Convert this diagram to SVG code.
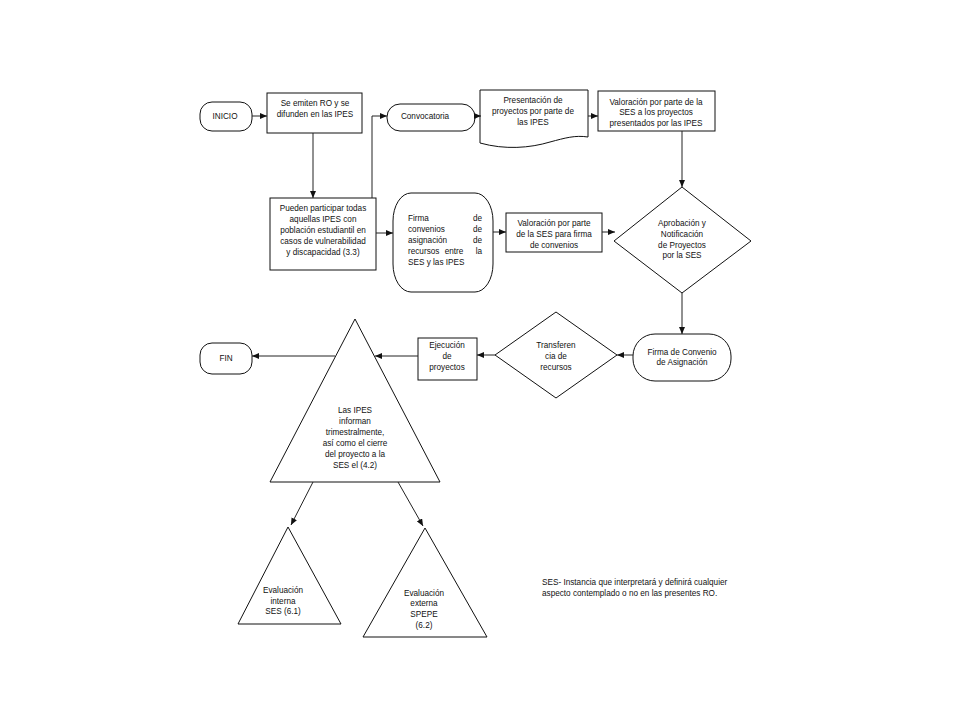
<svg xmlns="http://www.w3.org/2000/svg" width="960" height="720" viewBox="0 0 960 720">
<style>
.s{fill:#fff;stroke:#111;stroke-width:1}
.t{font-family:"Liberation Sans",Arial,sans-serif;font-size:8.2px;fill:#111;text-anchor:middle}
.l{text-anchor:start}
.r{text-anchor:end}
.c{fill:none;stroke:#222;stroke-width:1;marker-end:url(#a)}
</style>
<defs>
<marker id="a" markerWidth="7" markerHeight="6" refX="7" refY="3" orient="auto" markerUnits="userSpaceOnUse">
<path d="M0,0 L7,3 L0,6 z" fill="#111"/>
</marker>
</defs>
<rect width="960" height="720" fill="#fff"/>
<g id="inicio"><rect class="s" x="200" y="102" width="52" height="29" rx="12"/><text class="t" x="225" y="119">INICIO</text></g>
<g id="emiten"><rect class="s" x="267" y="93" width="95" height="40"/><text class="t" x="315" y="106">Se emiten RO y se</text><text class="t" x="315" y="117">difunden en las IPES</text></g>
<g id="convocatoria"><rect class="s" x="387" y="104" width="88" height="27" rx="13"/><text class="t" x="425" y="119">Convocatoria</text></g>
<g id="presentacion"><path class="s" d="M480,90 H588 V137 C575,135 565,138 550,142 C530,148 505,150 480,143 Z"/><text class="t" x="533" y="103">Presentación de</text><text class="t" x="533" y="114">proyectos por parte de</text><text class="t" x="533" y="125">las IPES</text></g>
<g id="valoracion1"><rect class="s" x="598" y="91" width="117" height="40"/><text class="t" x="656" y="105">Valoración por parte de la</text><text class="t" x="656" y="115">SES a los proyectos</text><text class="t" x="656" y="126">presentados por las IPES</text></g>
<g id="pueden"><rect class="s" x="270" y="198" width="106" height="72"/><text class="t" x="323" y="211">Pueden participar todas</text><text class="t" x="323" y="222">aquellas IPES con</text><text class="t" x="323" y="233">población estudiantil en</text><text class="t" x="323" y="244">casos de vulnerabilidad</text><text class="t" x="323" y="255">y discapacidad (3.3)</text></g>
<g id="firma"><rect class="s" x="393" y="193" width="100" height="99" rx="18" ry="28"/><text class="t l" x="408" y="221">Firma</text><text class="t r" x="482" y="221">de</text><text class="t l" x="408" y="232">convenios</text><text class="t r" x="482" y="232">de</text><text class="t l" x="408" y="243">asignación</text><text class="t r" x="482" y="243">de</text><text class="t l" x="408" y="254">recursos</text><text class="t" x="454" y="254">entre</text><text class="t r" x="482" y="254">la</text><text class="t l" x="408" y="265">SES y las IPES</text></g>
<g id="valoracion2"><rect class="s" x="506" y="213" width="96" height="39"/><text class="t" x="554" y="226">Valoración por parte</text><text class="t" x="554" y="237">de la SES para firma</text><text class="t" x="554" y="248">de convenios</text></g>
<g id="aprobacion"><polygon class="s" points="682,187 751,241 682,293 614,241"/><text class="t" x="682" y="226">Aprobación y</text><text class="t" x="682" y="237">Notificación</text><text class="t" x="682" y="248">de Proyectos</text><text class="t" x="682" y="258">por la SES</text></g>
<g id="firmaconvenio"><rect class="s" x="633" y="334" width="98" height="47" rx="22"/><text class="t" x="682" y="355">Firma de Convenio</text><text class="t" x="682" y="365">de Asignación</text></g>
<g id="transferencia"><polygon class="s" points="556,312 617,355 556,398 495,355"/><text class="t" x="556" y="348">Transferen</text><text class="t" x="556" y="359">cia de</text><text class="t" x="556" y="370">recursos</text></g>
<g id="ejecucion"><rect class="s" x="418" y="338" width="59" height="42"/><text class="t" x="447" y="348">Ejecución</text><text class="t" x="447" y="359">de</text><text class="t" x="447" y="370">proyectos</text></g>
<g id="informan"><polygon class="s" points="355,319 440,482 270,482"/><text class="t" x="355" y="413">Las IPES</text><text class="t" x="355" y="424">informan</text><text class="t" x="355" y="435">trimestralmente,</text><text class="t" x="355" y="446">así como el cierre</text><text class="t" x="355" y="457">del proyecto a la</text><text class="t" x="355" y="468">SES el (4.2)</text></g>
<g id="fin"><rect class="s" x="200" y="343" width="52" height="31" rx="12"/><text class="t" x="226" y="361">FIN</text></g>
<g id="interna"><polygon class="s" points="288,527 341,624 238,624"/><text class="t" x="283" y="593">Evaluación</text><text class="t" x="283" y="604">interna</text><text class="t" x="283" y="614">SES (6.1)</text></g>
<g id="externa"><polygon class="s" points="425,528 487,637 363,637"/><text class="t" x="424" y="596">Evaluación</text><text class="t" x="424" y="606">externa</text><text class="t" x="424" y="617">SPEPE</text><text class="t" x="424" y="628">(6.2)</text></g>
<g id="nota"><text class="t l" x="542" y="585">SES- Instancia que interpretará y definirá cualquier</text><text class="t l" x="542" y="596">aspecto contemplado o no en las presentes RO.</text></g>
<g id="connectors">
<path class="c" d="M252,116 H267"/>
<path class="c" d="M313,133 V198"/>
<path class="c" d="M372,198 V116 H387"/>
<path class="c" d="M475,116 H481"/>
<path class="c" d="M588,116 H598"/>
<path class="c" d="M682,131 V187"/>
<path class="c" d="M376,233 H393"/>
<path class="c" d="M493,232 H506"/>
<path class="c" d="M602,232 H615"/>
<path class="c" d="M682,293 V334"/>
<path class="c" d="M633,355 H617"/>
<path class="c" d="M495,355 H477"/>
<path class="c" d="M418,356 H375"/>
<path class="c" d="M335,356 H252"/>
<path class="c" d="M313,482 L291,525"/>
<path class="c" d="M398,482 L423,526"/>
</g>
</svg>
